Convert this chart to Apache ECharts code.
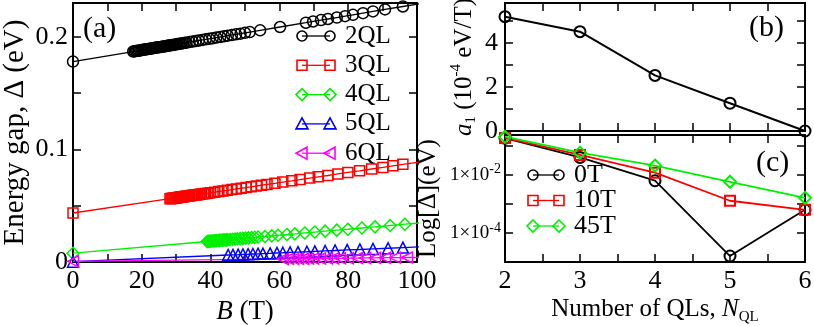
<!DOCTYPE html>
<html>
<head>
<meta charset="utf-8">
<script src="https://cdn.jsdelivr.net/npm/echarts@6.0.0/dist/echarts.min.js"></script>
<style>
html, body { margin: 0; padding: 0; background: #fff; }
#main { width: 814px; height: 326px; }
</style>
</head>
<body>
<div id="main"></div>
<script>
// (a) energy gap vs magnetic field, one pair of arrays per film thickness
var b2QL = [0, 17.5, 17.9, 18.3, 18.7, 19.1, 19.5, 19.9, 20.3, 20.7, 21.1, 21.5, 21.9, 22.3, 22.7, 23.1, 23.5, 23.9, 24.3, 24.7, 25.1, 25.5, 25.9, 26.3, 26.7, 27.1, 27.5, 27.9, 28.3, 28.7, 29.1, 29.5, 29.9, 30.3, 30.7, 31.1, 31.5, 32.0, 32.5, 33.0, 33.9, 34.8, 35.7, 36.6, 37.6, 38.6, 39.6, 40.6, 41.7, 42.8, 43.9, 45.0, 46.2, 47.4, 48.7, 50.0, 51.4, 54.4, 60.2, 67.7, 69.8, 72.1, 74.1, 76.7, 79.1, 81.4, 84.3, 87.2, 90.7, 95.9, 102];
var gap2QL = [0.1780, 0.1869, 0.1871, 0.1873, 0.1875, 0.1877, 0.1879, 0.1881, 0.1884, 0.1886, 0.1888, 0.1890, 0.1892, 0.1894, 0.1896, 0.1898, 0.1900, 0.1902, 0.1904, 0.1906, 0.1908, 0.1910, 0.1912, 0.1914, 0.1916, 0.1918, 0.1920, 0.1922, 0.1924, 0.1926, 0.1928, 0.1930, 0.1932, 0.1935, 0.1937, 0.1939, 0.1941, 0.1943, 0.1946, 0.1948, 0.1953, 0.1957, 0.1962, 0.1967, 0.1972, 0.1977, 0.1982, 0.1987, 0.1993, 0.1998, 0.2004, 0.2010, 0.2016, 0.2022, 0.2028, 0.2035, 0.2042, 0.2057, 0.2087, 0.2125, 0.2136, 0.2148, 0.2158, 0.2171, 0.2183, 0.2195, 0.2210, 0.2225, 0.2243, 0.2269, 0.2300];

var b3QL = [0, 28.2, 28.5, 28.8, 29.1, 29.4, 29.7, 30.0, 30.3, 30.6, 30.9, 31.2, 31.5, 31.8, 32.1, 32.4, 32.8, 33.2, 33.6, 34.0, 34.4, 34.8, 35.3, 35.8, 36.3, 36.8, 37.4, 38.0, 38.6, 39.2, 40.0, 41.2, 42.4, 43.6, 44.9, 46.2, 47.5, 48.9, 50.3, 51.8, 53.3, 54.8, 56.4, 58.7, 61.0, 63.6, 66.0, 68.8, 71.3, 74.1, 77.0, 79.9, 83.3, 86.8, 90.1, 93.0, 95.9, 102];
var gap3QL = [0.0435, 0.0562, 0.0563, 0.0565, 0.0566, 0.0567, 0.0569, 0.0570, 0.0571, 0.0573, 0.0574, 0.0575, 0.0577, 0.0578, 0.0579, 0.0581, 0.0583, 0.0584, 0.0586, 0.0588, 0.0590, 0.0592, 0.0594, 0.0596, 0.0598, 0.0601, 0.0603, 0.0606, 0.0609, 0.0611, 0.0615, 0.0620, 0.0626, 0.0631, 0.0637, 0.0643, 0.0649, 0.0655, 0.0661, 0.0668, 0.0675, 0.0682, 0.0689, 0.0699, 0.0710, 0.0721, 0.0732, 0.0745, 0.0756, 0.0768, 0.0782, 0.0795, 0.0810, 0.0826, 0.0840, 0.0854, 0.0867, 0.0894];

var b4QL = [0, 39.0, 39.35, 39.7, 40.05, 40.4, 40.75, 41.1, 41.45, 41.8, 42.2, 42.6, 43.0, 43.4, 43.8, 44.2, 44.6, 45.0, 45.7, 46.4, 47.1, 47.8, 48.6, 49.4, 50.2, 51.0, 51.9, 52.8, 53.8, 55.8, 57.8, 59.6, 62.2, 64.5, 67.4, 70.3, 73.3, 76.7, 79.9, 84.0, 87.8, 92.2, 96.5, 102];
var gap4QL = [0.0078, 0.0182, 0.0183, 0.0184, 0.0185, 0.0186, 0.0187, 0.0188, 0.0189, 0.0190, 0.0191, 0.0192, 0.0193, 0.0194, 0.0195, 0.0196, 0.0197, 0.0198, 0.0200, 0.0202, 0.0204, 0.0206, 0.0208, 0.0210, 0.0212, 0.0214, 0.0217, 0.0219, 0.0222, 0.0227, 0.0232, 0.0237, 0.0244, 0.0250, 0.0258, 0.0266, 0.0274, 0.0283, 0.0291, 0.0302, 0.0312, 0.0324, 0.0336, 0.0350];

var b5QL = [0, 45.1, 46.5, 48.0, 49.4, 50.9, 52.3, 53.8, 55.2, 57.3, 59.3, 61.0, 63.1, 65.4, 68.0, 70.3, 73.3, 76.2, 79.7, 83.4, 87.2, 91.6, 95.9, 102];
var gap5QL = [0.0003, 0.0062, 0.0063, 0.0065, 0.0067, 0.0069, 0.0071, 0.0073, 0.0075, 0.0077, 0.0080, 0.0082, 0.0085, 0.0088, 0.0091, 0.0094, 0.0098, 0.0102, 0.0107, 0.0111, 0.0116, 0.0122, 0.0128, 0.0136];

var b6QL = [0, 61.0, 62.5, 64.0, 65.4, 66.9, 68.3, 69.8, 71.8, 73.8, 75.6, 77.6, 79.9, 82.6, 84.9, 87.8, 90.7, 93.6, 97.1, 102];
var gap6QL = [0.0006, 0.0027, 0.0028, 0.0028, 0.0029, 0.0029, 0.0030, 0.0030, 0.0031, 0.0032, 0.0032, 0.0033, 0.0034, 0.0035, 0.0036, 0.0037, 0.0038, 0.0039, 0.0040, 0.0042];

// (b) slope a1 and (c) gap at fixed field, vs number of QLs
var nQL = [2, 3, 4, 5, 6];
var a1 = [5.18, 4.5, 2.52, 1.26, 0];
var gap0T = [0.178, 0.039, 0.0062, 1.6e-5, 6.2e-4];
var gap10T = [0.183, 0.0475, 0.0117, 1.27e-3, 6.2e-4];
var gap45T = [0.201, 0.057, 0.0205, 0.0057, 0.0016];

var legendA = ['2QL', '3QL', '4QL', '5QL', '6QL'];
var legendC = ['0T', '10T', '45T'];
var logTicks = [1e-2, 1e-4];

var FONT = 'Liberation Serif';
var chart = echarts.init(document.getElementById('main'));

function pairs(xs, ys) {
  return xs.map(function (x, i) { return [x, ys[i]]; });
}

var axisLine = { show: true, onZero: false, lineStyle: { color: '#000', width: 2 } };
var ticks = { show: true, inside: true, length: 8, lineStyle: { color: '#000', width: 1.5 } };

function frameAxis(extra) {
  var ax = {
    axisLine: axisLine,
    axisTick: ticks,
    splitLine: { show: false },
    axisLabel: { show: false },
    axisPointer: { show: false }
  };
  for (var k in extra) ax[k] = extra[k];
  return ax;
}

function lineSeries(xi, data, sym, color, size, lw, bw, rot) {
  return {
    type: 'line', xAxisIndex: xi, yAxisIndex: xi, data: data,
    symbol: sym, symbolSize: size, symbolRotate: rot || 0,
    lineStyle: { color: color, width: lw },
    itemStyle: { color: 'rgba(0,0,0,0)', borderColor: color, borderWidth: bw },
    clip: true, silent: true, animation: false
  };
}

// legend samples drawn as graphics: a short line with a symbol at each end
function mark(sym, color, cx, cy) {
  var st = { fill: 'none', stroke: color, lineWidth: 1.6 };
  var s = 5;
  if (sym === 'circle') return { type: 'circle', shape: { cx: cx, cy: cy, r: s }, style: st };
  if (sym === 'rect') return { type: 'rect', shape: { x: cx - s, y: cy - s, width: 2 * s, height: 2 * s }, style: st };
  if (sym === 'diamond') return { type: 'polygon', shape: { points: [[cx, cy - 6], [cx + 6, cy], [cx, cy + 6], [cx - 6, cy]] }, style: st };
  if (sym === 'triangle') return { type: 'polygon', shape: { points: [[cx, cy - 6], [cx + 6, cy + 5], [cx - 6, cy + 5]] }, style: st };
  return { type: 'polygon', shape: { points: [[cx - 6, cy], [cx + 5, cy - 6], [cx + 5, cy + 6]] }, style: st };
}

function legendRow(sym, color, label, x1, x2, y, fs) {
  return [
    { type: 'line', shape: { x1: x1, y1: y, x2: x2, y2: y }, style: { stroke: color, lineWidth: 1.3 } },
    mark(sym, color, x1, y),
    mark(sym, color, x2, y),
    { type: 'text', x: x2 + 15, y: y, style: { text: label, font: fs + 'px ' + FONT, fill: '#000', verticalAlign: 'middle' } }
  ];
}

var colA = ['#000000', '#ff0000', '#00f000', '#0000ff', '#ff00ff'];
var symA = ['circle', 'rect', 'diamond', 'triangle', 'left'];
var colC = ['#000000', '#ff0000', '#00f000'];
var symC = ['circle', 'rect', 'diamond'];

var graphics = [];
legendA.forEach(function (t, i) {
  graphics = graphics.concat(legendRow(symA[i], colA[i], t, 302, 330, 36 + i * 29.3, 25));
});
legendC.forEach(function (t, i) {
  graphics = graphics.concat(legendRow(symC[i], colC[i], t, 533, 559, 175 + i * 25.5, 26));
});
['(a)', '(b)', '(c)'].forEach(function (t, i) {
  var pos = [[83, 29], [749, 28], [756, 163]][i];
  graphics.push({ type: 'text', x: pos[0], y: pos[1], style: { text: t, font: '30px ' + FONT, fill: '#000', verticalAlign: 'middle' } });
});

var supRich = { fontFamily: FONT, fontSize: 15, lineHeight: 15, verticalAlign: 'top', color: '#000' };
var subRich = { fontFamily: FONT, fontSize: 15, lineHeight: 15, verticalAlign: 'bottom', color: '#000' };

chart.setOption({
  animation: false,
  backgroundColor: '#fff',
  grid: [
    { left: 73, top: 3, width: 344, height: 259, outerBoundsMode: 'none' },
    { left: 505, top: 3, width: 300, height: 128, outerBoundsMode: 'none' },
    { left: 505, top: 135, width: 300, height: 127, outerBoundsMode: 'none' }
  ],
  xAxis: [
    frameAxis({
      gridIndex: 0, type: 'value', position: 'bottom', min: 0, max: 100, interval: 10,
      axisLabel: {
        show: true, color: '#000', fontFamily: FONT, fontSize: 26, margin: 6,
        formatter: function (v) { return v % 20 === 0 ? String(v) : ''; }
      },
      name: '{i|B} (T)', nameLocation: 'middle', nameGap: 27,
      nameTextStyle: { color: '#000', fontFamily: FONT, fontSize: 27, rich: { i: { fontFamily: FONT, fontSize: 27, fontStyle: 'italic', color: '#000' } } }
    }),
    frameAxis({ gridIndex: 0, type: 'value', position: 'top', min: 0, max: 100, interval: 10 }),
    frameAxis({ gridIndex: 1, type: 'value', position: 'bottom', min: 2, max: 6, interval: 0.5 }),
    frameAxis({ gridIndex: 1, type: 'value', position: 'top', min: 2, max: 6, interval: 0.5 }),
    frameAxis({
      gridIndex: 2, type: 'value', position: 'bottom', min: 2, max: 6, interval: 0.5,
      axisLabel: {
        show: true, color: '#000', fontFamily: FONT, fontSize: 26, margin: 6,
        formatter: function (v) { return v % 1 === 0 ? String(v) : ''; }
      },
      name: 'Number of QLs, {i|N}{sub|QL}', nameLocation: 'middle', nameGap: 28,
      nameTextStyle: {
        color: '#000', fontFamily: FONT, fontSize: 25, lineHeight: 30,
        rich: { i: { fontFamily: FONT, fontSize: 25, fontStyle: 'italic', color: '#000', lineHeight: 30 }, sub: subRich }
      }
    }),
    frameAxis({ gridIndex: 2, type: 'value', position: 'top', min: 2, max: 6, interval: 0.5 })
  ],
  yAxis: [
    frameAxis({
      gridIndex: 0, type: 'value', position: 'left', min: 0, max: 0.23, interval: 0.05,
      axisLabel: {
        show: true, color: '#000', fontFamily: FONT, fontSize: 26, margin: 5, showMaxLabel: false,
        formatter: function (v) {
          var t = Math.round(v * 100);
          if (t === 0) return '0';
          return t % 10 === 0 ? (t / 100).toFixed(1) : '';
        }
      },
      name: 'Energy gap, \u0394 (eV)', nameLocation: 'middle', nameRotate: 90, nameGap: 43,
      nameTextStyle: { color: '#000', fontFamily: FONT, fontSize: 29 }
    }),
    frameAxis({ gridIndex: 0, type: 'value', position: 'right', min: 0, max: 0.23, interval: 0.05 }),
    frameAxis({
      gridIndex: 1, type: 'value', position: 'left', min: 0, max: 5.8, interval: 1,
      axisLabel: {
        show: true, color: '#000', fontFamily: FONT, fontSize: 26, margin: 7, showMaxLabel: false,
        formatter: function (v) { return (v % 2 === 0 && v <= 5) ? String(v) : ''; }
      },
      name: '{i|a}{sub|1} (10{sup|-4} eV/T)', nameLocation: 'middle', nameRotate: 90, nameGap: 26,
      nameTextStyle: {
        color: '#000', fontFamily: FONT, fontSize: 25, lineHeight: 30,
        rich: { i: { fontFamily: FONT, fontSize: 25, fontStyle: 'italic', color: '#000', lineHeight: 30 }, sub: subRich, sup: supRich }
      }
    }),
    frameAxis({ gridIndex: 1, type: 'value', position: 'right', min: 0, max: 5.8, interval: 1 }),
    frameAxis({
      gridIndex: 2, type: 'log', logBase: 10, position: 'left', min: 1e-5, max: 0.23,
      name: 'Log[\u0394](eV)', nameLocation: 'middle', nameRotate: 90, nameGap: 64,
      nameTextStyle: { color: '#000', fontFamily: FONT, fontSize: 25 }
    }),
    frameAxis({ gridIndex: 2, type: 'log', logBase: 10, position: 'right', min: 1e-5, max: 0.23 })
  ],
  series: [
    lineSeries(0, pairs(b2QL, gap2QL), 'circle', colA[0], 11, 1.3, 1.5),
    lineSeries(0, pairs(b3QL, gap3QL), 'rect', colA[1], 10, 1.3, 1.5),
    lineSeries(0, pairs(b4QL, gap4QL), 'diamond', colA[2], 12, 1.3, 1.5),
    lineSeries(0, pairs(b5QL, gap5QL), 'triangle', colA[3], 11, 1.3, 1.5),
    lineSeries(0, pairs(b6QL, gap6QL), 'triangle', colA[4], 11, 1.3, 1.5, 90),
    lineSeries(2, pairs(nQL, a1), 'circle', '#000', 11, 2, 2),
    {
      type: 'line', xAxisIndex: 4, yAxisIndex: 4, data: pairs(nQL, gap0T),
      symbol: 'circle', symbolSize: 11, lineStyle: { color: colC[0], width: 1.8 },
      itemStyle: { color: 'rgba(0,0,0,0)', borderColor: colC[0], borderWidth: 2 }, silent: true, animation: false
    },
    {
      type: 'line', xAxisIndex: 4, yAxisIndex: 4, data: pairs(nQL, gap10T),
      symbol: 'rect', symbolSize: 10, lineStyle: { color: colC[1], width: 1.8 },
      itemStyle: { color: 'rgba(0,0,0,0)', borderColor: colC[1], borderWidth: 2 }, silent: true, animation: false
    },
    {
      type: 'line', xAxisIndex: 4, yAxisIndex: 4, data: pairs(nQL, gap45T),
      symbol: 'diamond', symbolSize: 12, lineStyle: { color: colC[2], width: 1.8 },
      itemStyle: { color: 'rgba(0,0,0,0)', borderColor: colC[2], borderWidth: 2 }, silent: true, animation: false
    }
  ],
  graphic: graphics
});

// log-axis tick labels with superscript exponents, placed through the axis scale
var logLabels = logTicks.map(function (v) {
  var e = Math.round(Math.log(v) / Math.LN10);
  return {
    type: 'text', x: 501, y: chart.convertToPixel({ yAxisIndex: 4 }, v),
    style: {
      text: '{b|1\u00d710}{s|' + e + '}', align: 'right', verticalAlign: 'middle',
      rich: {
        b: { fontFamily: FONT, fontSize: 19, lineHeight: 24, fill: '#000' },
        s: { fontFamily: FONT, fontSize: 14, lineHeight: 14, verticalAlign: 'top', fill: '#000' }
      }
    }
  };
});
chart.setOption({ graphic: graphics.concat(logLabels) });
</script>
</body>
</html>
